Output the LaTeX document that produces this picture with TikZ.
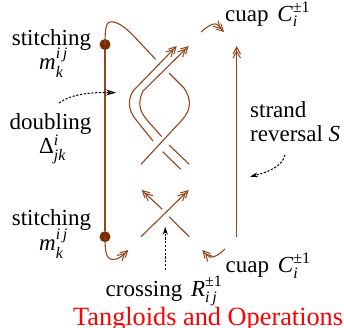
\documentclass[tikz,border=0pt]{standalone}
\usepackage{fontspec}
\setmainfont{Liberation Serif}
\usetikzlibrary{arrows.meta}
\definecolor{strandc}{RGB}{145,70,30}
\definecolor{dotc}{RGB}{120,45,5}
\newcommand{\scrsize}{\fontsize{16}{16}\selectfont}
% base, superscript, subscript, raise, lower
\newcommand{\supsub}[5]{#1\rlap{\raisebox{-#5pt}{\scrsize\textit{#3}}}\raisebox{#4pt}{\scrsize #2}}
\tikzset{
  strand/.style={draw=strandc,line width=1.1pt},
  strandarr/.style={strand,-{Straight Barb[length=7pt,width=7.5pt,line width=1pt,sep=-4.5pt]Straight Barb[length=7pt,width=7.5pt,line width=1pt]}},
  dotnode/.style={circle,fill=dotc,inner sep=0pt,minimum size=11pt},
  hint/.style={dash pattern=on 2.2pt off 1.6pt,line width=1pt,-{Stealth[length=8pt,width=5pt]}},
  lbl/.style={inner sep=0pt,font=\fontsize{23}{25}\selectfont,anchor=base west},
  lblc/.style={lbl,anchor=base},
}
\begin{document}
\begin{tikzpicture}[x=1pt,y=-1pt]
\useasboundingbox (0,0) rectangle (344,327);
% stitching dots
\node[dotnode] (dtop) at (105,44.5) {};
\node[dotnode] (dbot) at (105,236.7) {};
\draw[strand] (dtop) -- (dbot);
% closing strand top and bottom
\coordinate (ttop) at (155.7,59.3);
\draw[strand] (dtop.center) .. controls (105,28) and (106,21) .. (112,21.7) .. controls (124,23) and (134,37) .. (ttop);
\coordinate (tbot) at (128.3,250);
\draw[strandarr] (dbot.center) .. controls (105,252) and (106,259) .. (113,259.5) .. controls (119,260) and (124,254) .. (tbot);
% doubled strands
\coordinate (aend) at (176.7,46);
\coordinate (bend) at (188.7,46);
\coordinate (astart) at (153,141);
\coordinate (bstart) at (161.7,136.7);
\draw[strandarr] (astart) -- (137,121) .. controls (130,113) and (126,103) .. (133,91) -- (aend);
\draw[strandarr] (bstart) -- (147,120) .. controls (140,112) and (137,103) .. (143,91) -- (bend);
% single strand over
\coordinate (cstart) at (141,164.3);
\coordinate (cend) at (169,73);
\draw[strand] (cstart) -- (182,120) .. controls (191,110) and (192,100) .. (184,88) -- (cend);
\coordinate (dA) at (169,145);
\coordinate (dB) at (189.3,164.3);
\coordinate (eA) at (162.7,151.7);
\coordinate (eB) at (180.7,169.3);
\draw[strand] (dA) -- (dB);
\draw[strand] (eA) -- (eB);
% lower crossing
\coordinate (xA) at (141,236.7);
\coordinate (xB) at (188.7,190);
\coordinate (xC) at (189.3,236.7);
\coordinate (xD) at (169,216.7);
\coordinate (xE) at (162.3,209.3);
\coordinate (xF) at (141.7,190);
\draw[strandarr] (xA) -- (xB);
\draw[strand] (xC) -- (xD);
\draw[strandarr] (xE) -- (xF);
% cuaps
\coordinate (ctA) at (201,32);
\coordinate (ctB) at (224,32);
\draw[strandarr] (ctA) .. controls (207,27) and (212,23) .. (216,24) .. controls (219,25) and (221,29) .. (ctB);
\coordinate (cbA) at (225,249);
\coordinate (cbB) at (202.3,250);
\draw[strandarr] (cbA) .. controls (220,254) and (214,258) .. (210,257) .. controls (207,256) and (205,253) .. (cbB);
% reversed strand
\coordinate (rA) at (236.7,236.7);
\coordinate (rB) at (236.7,46);
\draw[strandarr] (rA) -- (rB);
% pointers
\coordinate (pA) at (59,103);
\coordinate (pB) at (116,92.7);
\draw[hint,-{Stealth[length=10pt,width=6pt,open,fill=white]}] (pA) .. controls (68,96) and (85,92) .. (pB);
\coordinate (qA) at (165.3,270);
\coordinate (qB) at (165.3,226.7);
\draw[hint] (qA) -- (qB);
\coordinate (sA) at (285,155);
\coordinate (sB) at (250,176.7);
\draw[hint] (sA) .. controls (282,167) and (268,172) .. (sB);
% labels
\node[lblc] (st1) at (51.5,45) {stitching};
\node[lbl] (m1) at (39,69) {\supsub{\textit{m}}{\textit{i\,j}}{k}{11}{8}};
\node[lblc] (dbl) at (50.5,129) {doubling};
\node[lbl] (del) at (39,153) {\supsub{Δ}{\textit{i}}{jk}{8}{7}};
\node[lblc] (st2) at (51.5,225) {stitching};
\node[lbl] (m2) at (39,250) {\supsub{\textit{m}}{\textit{i\,j}}{k}{11}{8}};
\node[lbl] (cu1) at (225,21) {cuap\hspace{3pt} \supsub{\textit{C}}{±1}{i}{8.5}{5}};
\node[lbl] (cu2) at (225.5,272.7) {cuap\hspace{3pt} \supsub{\textit{C}}{±1}{i}{9.5}{6}};
\node[lbl] (sr1) at (250,117) {strand};
\node[lbl] (sr2) at (250,141) {reversal \textit{S}};
\node[lbl] (cr) at (105.5,296.7) {crossing\hspace{3pt} \supsub{\textit{R}}{±1}{i\,j}{10}{6}};
\node[lbl,text=red,font=\fontsize{26.3}{28}\selectfont] (ttl) at (73,325) {Tangloids and Operations};
\end{tikzpicture}
\end{document}
